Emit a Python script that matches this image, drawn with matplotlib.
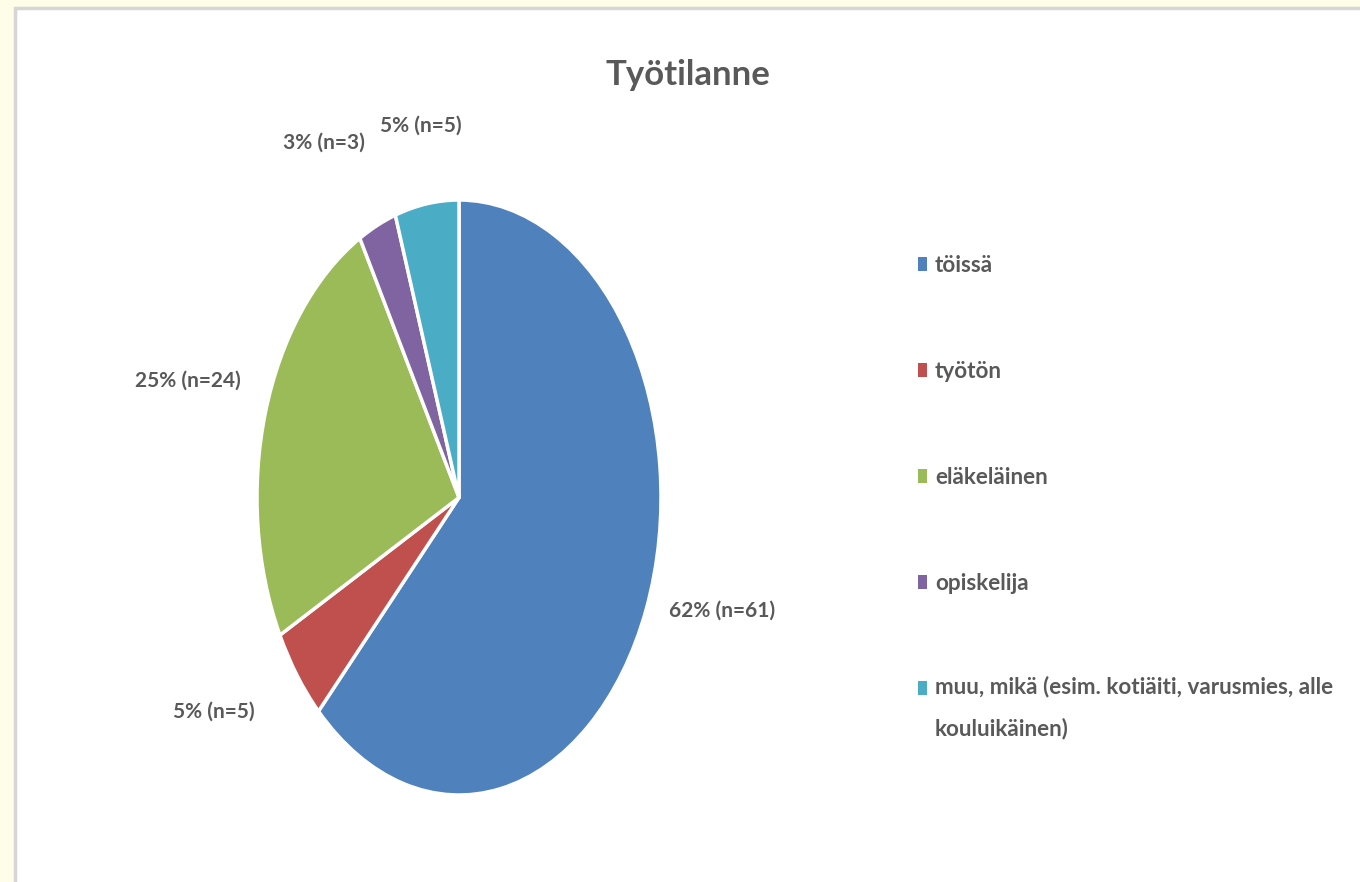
import matplotlib.pyplot as plt
from matplotlib.patches import Rectangle
import numpy as np

title = "Työtilanne"
categories = ["töissä", "työtön", "eläkeläinen", "opiskelija",
              "muu, mikä (esim. kotiäiti, varusmies, alle\nkouluikäinen)"]
counts = [61, 5, 24, 3, 5]
percents = [62, 5, 25, 3, 5]
colors = ["#4F81BD", "#C0504D", "#9BBB59", "#8064A2", "#4BACC6"]
label_dist = [1.355, 1.41, 1.40, 1.366, 1.265]
label_shift = [5.7, -6.0, 0.3, 5.4, -0.6]

W, H = 1360, 882
fig = plt.figure(figsize=(W / 100, H / 100), dpi=100)
fig.patch.set_facecolor("#FEFDE8")
plt.rcParams['font.family'] = ['Lato', 'DejaVu Sans']
txtcol = "#595959"

# white panel with grey frame (runs off the right/bottom edge)
fig.add_artist(Rectangle((15 / W, -0.01), 1.0, 1.01 - 8 / H, transform=fig.transFigure,
                         facecolor="white", edgecolor="#D6D6D6", linewidth=2.5, zorder=0))

# pie, stretched vertically like the source
ax = fig.add_axes([257 / W, (H - 795) / H, 404 / W, 595 / H])
wedges, _ = ax.pie(counts, colors=colors, startangle=90, counterclock=False,
                   wedgeprops=dict(edgecolor="white", linewidth=2.5))
ax.set_aspect('auto')
ax.set_xlim(-1, 1)
ax.set_ylim(-1, 1)
ax.axis('off')

for w, p, n, d, s in zip(wedges, percents, counts, label_dist, label_shift):
    ang = np.deg2rad((w.theta1 + w.theta2) / 2 + s)
    ax.text(d * np.cos(ang), d * np.sin(ang), f"{p}% (n={n})", ha='center', va='center',
            fontsize=15, fontweight='bold', color=txtcol, clip_on=False)

fig.text(688 / W, 1 - 75 / H, title, ha='center', va='center', fontsize=25,
         fontweight='bold', color=txtcol)

# legend
y0, dy = 265, 106
for i, (lab, c) in enumerate(zip(categories, colors)):
    y = y0 + i * dy
    fig.add_artist(Rectangle((918 / W, 1 - (y + 6) / H), 9 / W, 14 / H,
                             transform=fig.transFigure, facecolor=c, edgecolor='none'))
    if '\n' in lab:
        fig.text(935 / W, 1 - (y - 13) / H, lab, ha='left', va='top',
                 fontsize=16.2, fontweight='bold', color=txtcol, linespacing=2.15)
    else:
        fig.text(935 / W, 1 - y / H, lab, ha='left', va='center',
                 fontsize=16.2, fontweight='bold', color=txtcol)

fig.savefig("out.png", dpi=100, facecolor=fig.get_facecolor())
